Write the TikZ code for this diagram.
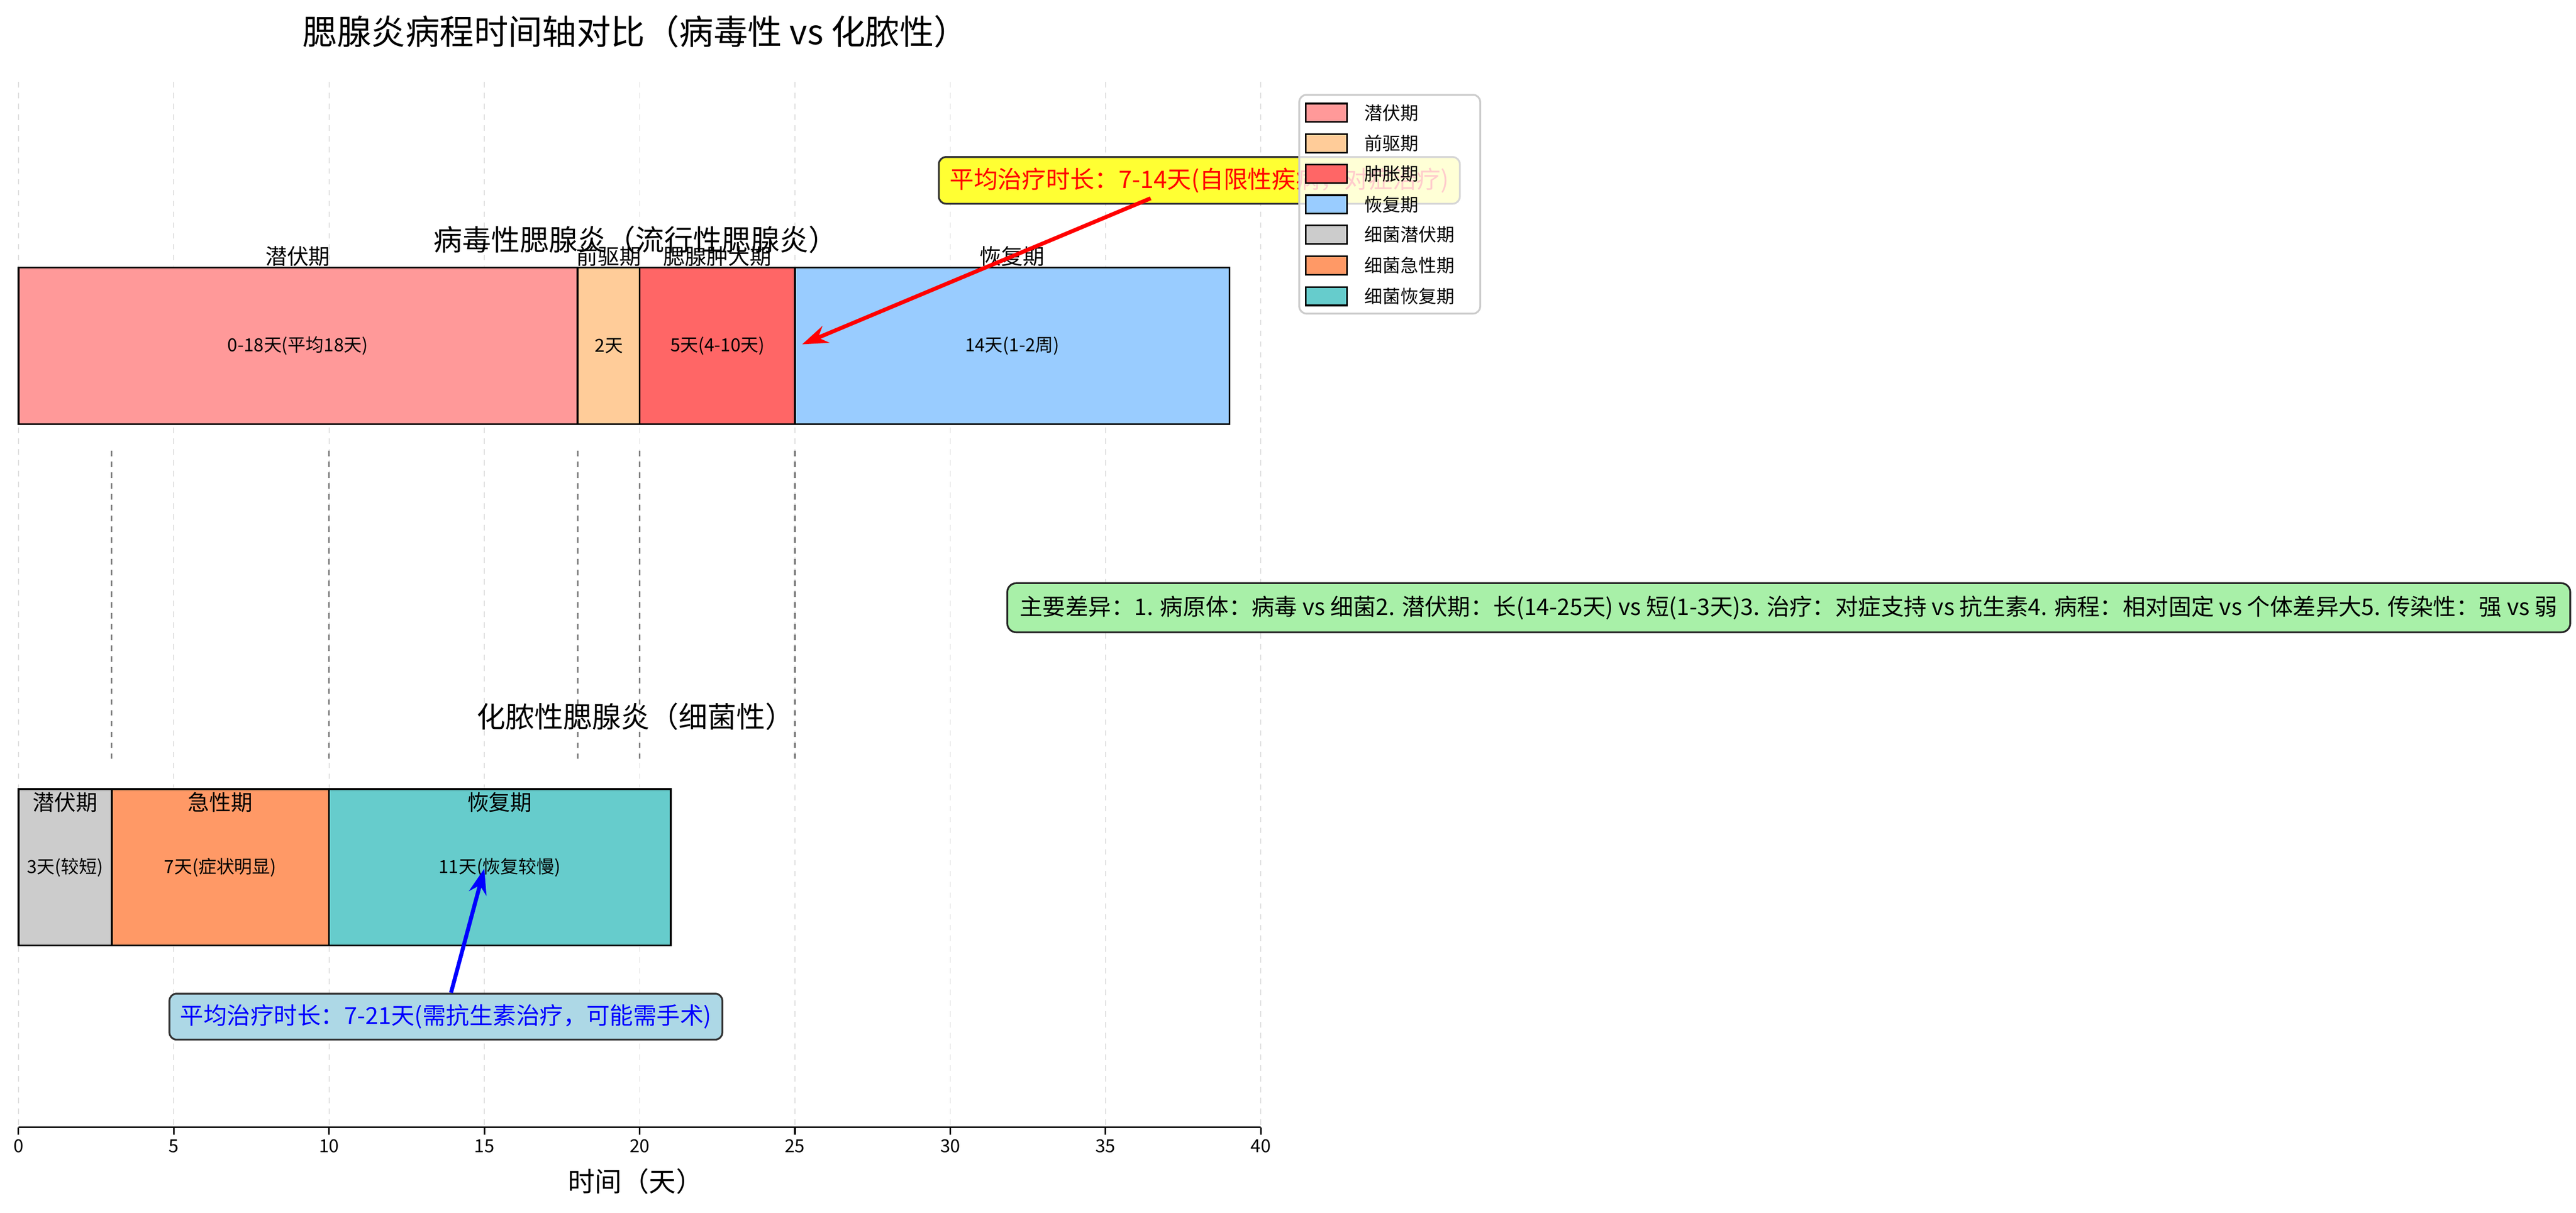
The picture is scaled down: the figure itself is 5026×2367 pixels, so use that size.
\documentclass[tikz,border=0pt]{standalone}
\usepackage{fontspec}
\setmainfont{Noto Sans CJK SC}
\usetikzlibrary{arrows.meta}
\begin{document}
\begin{tikzpicture}[x=0.1mm,y=-0.1mm,
  seg/.style={draw=black,line width=1pt},
  barlbl/.style={font=\fontsize{12}{14}\selectfont},
  inlbl/.style={font=\fontsize{10}{12}\selectfont},
  grid/.style={draw=gray!25,dashed,line width=0.5pt},
  sep/.style={draw=gray,dashed,line width=0.9pt},
  leg/.style={draw=black,line width=0.9pt,minimum width=8mm,minimum height=3.6mm,inner sep=0pt},
  legt/.style={anchor=west,font=\fontsize{10}{12}\selectfont,inner sep=0pt}]
\useasboundingbox (0,0) rectangle (5026,2367);
\fill[white] (0,0) rectangle (5026,2367);
% grid
\foreach \x in {36,339,642,945,1248,1551,1854,2157,2460} \draw[grid] (\x,160) -- (\x,2200);
\node[font=\fontsize{19}{22}\selectfont] (title) at (1240,62) {腮腺炎病程时间轴对比（病毒性 vs 化脓性）};
% top bar
\filldraw[seg,fill={rgb,255:red,255;green,153;blue,153}] (36,522) rectangle (1127,828);
\filldraw[seg,fill={rgb,255:red,255;green,204;blue,153}] (1127,522) rectangle (1248,828);
\filldraw[seg,fill={rgb,255:red,255;green,102;blue,102}] (1248,522) rectangle (1551,828);
\filldraw[seg,fill={rgb,255:red,153;green,204;blue,255}] (1551,522) rectangle (2399,828);
\node[barlbl,anchor=south,inner sep=1pt] (v1) at (581,524) {潜伏期};
\node[barlbl,anchor=south,inner sep=1pt] (v2) at (1188,524) {前驱期};
\node[barlbl,anchor=south,inner sep=1pt] (v3) at (1400,524) {腮腺肿大期};
\node[barlbl,anchor=south,inner sep=1pt] (v4) at (1975,524) {恢复期};
\node[font=\fontsize{16}{18}\selectfont] (st1) at (1240,468) {病毒性腮腺炎（流行性腮腺炎）};
\node[inlbl] (i1) at (581,675) {0-18天(平均18天)};
\node[inlbl] (i2) at (1188,675) {2天};
\node[inlbl] (i3) at (1400,675) {5天(4-10天)};
\node[inlbl] (i4) at (1975,675) {14天(1-2周)};
% separators
\foreach \x in {218,642,1127,1248,1551} \draw[sep] (\x,880) -- (\x,1490);
% bottom bar
\filldraw[seg,fill={rgb,255:red,204;green,204;blue,204}] (36,1540) rectangle (218,1845);
\filldraw[seg,fill={rgb,255:red,255;green,153;blue,102}] (218,1540) rectangle (642,1845);
\filldraw[seg,fill={rgb,255:red,102;green,204;blue,204}] (642,1540) rectangle (1309,1845);
\node[barlbl,anchor=north,inner sep=1pt] (b1) at (127,1542) {潜伏期};
\node[barlbl,anchor=north,inner sep=1pt] (b2) at (430,1542) {急性期};
\node[barlbl,anchor=north,inner sep=1pt] (b3) at (975,1542) {恢复期};
\node[font=\fontsize{16}{18}\selectfont] (st2) at (1240,1398) {化脓性腮腺炎（细菌性）};
\node[inlbl] (j1) at (127,1693) {3天(较短)};
\node[inlbl] (j2) at (430,1693) {7天(症状明显)};
\node[inlbl] (j3) at (975,1693) {11天(恢复较慢)};
\coordinate (ra) at (1565,672);
\coordinate (ba) at (945,1695);
% annotations
\node[draw=black!80,line width=1pt,rounded corners=4pt,fill={rgb,255:red,255;green,255;blue,51},text=red,font=\fontsize{13.4}{16}\selectfont,inner sep=6pt] (rbox) at (2340,352) {平均治疗时长：7-14天(自限性疾病，对症治疗)};
\draw[red,line width=2.2pt,-{Stealth[length=5mm,width=3.5mm]}] (2245,387) -- (ra);
\node[draw=black!80,line width=1pt,rounded corners=4pt,fill={rgb,255:red,173;green,216;blue,230},text=blue,font=\fontsize{13}{16}\selectfont,inner sep=6pt] (bbox) at (870,1984) {平均治疗时长：7-21天(需抗生素治疗，可能需手术)};
\draw[blue,line width=2.2pt,-{Stealth[length=5mm,width=3.5mm]}] (bbox.north) ++(10,0) -- (ba);
\node[draw=black!85,line width=1pt,rounded corners=5pt,fill={rgb,255:red,168;green,240;blue,168},font=\fontsize{12.7}{15}\selectfont,inner sep=7pt] (gbox) at (3490,1186) {主要差异：1. 病原体：病毒 vs 细菌2. 潜伏期：长(14-25天) vs 短(1-3天)3. 治疗：对症支持 vs 抗生素4. 病程：相对固定 vs 个体差异大5. 传染性：强 vs 弱};
% legend
\filldraw[draw=gray!40,line width=1pt,fill=white,fill opacity=0.8,rounded corners=4pt] (2535,185) rectangle (2888,612);
\foreach \y/\c/\t [count=\i] in {220/{255,153,153}/潜伏期,280/{255,204,153}/前驱期,339/{255,102,102}/肿胀期,399/{153,204,255}/恢复期,458/{204,204,204}/细菌潜伏期,518/{255,153,102}/细菌急性期,578/{102,204,204}/细菌恢复期}{
  \definecolor{lc}{RGB}{\c}
  \node[leg,fill=lc] (lp\i) at (2588,\y) {};
  \node[legt] (lt\i) at (2662,\y) {\t};
}
% axis
\draw[black,line width=0.9pt] (36,2200) -- (2460,2200);
\foreach \x/\l in {36/0,339/5,642/10,945/15,1248/20,1551/25,1854/30,2157/35,2460/40}{
  \draw[black,line width=0.9pt] (\x,2200) -- (\x,2214);
  \node[anchor=north,font=\fontsize{10}{12}\selectfont,inner sep=2pt] at (\x,2216) {\l};
}
\node[font=\fontsize{15}{18}\selectfont] (xl) at (1240,2305) {时间（天）};
\end{tikzpicture}
\end{document}
